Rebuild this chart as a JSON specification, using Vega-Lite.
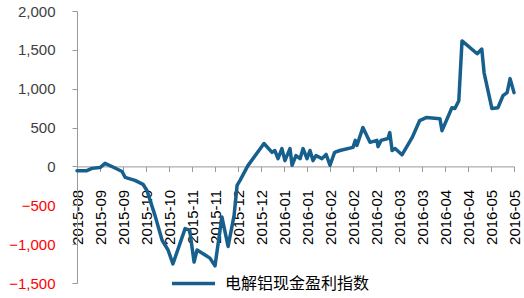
{
  "$schema": "https://vega.github.io/schema/vega-lite/v6.json",
  "width": 437,
  "height": 272,
  "autosize": {"type": "none"},
  "padding": {"left": 77, "top": 11, "right": 10, "bottom": 15},
  "background": "white",
  "config": {"view": {"stroke": null}, "font": "Liberation Sans"},
  "data": {"values": [
    {"t": 0, "v": -55}, {"t": 4.3, "v": -55}, {"t": 6.5, "v": -25}, {"t": 10, "v": -15},
    {"t": 12.2, "v": 40}, {"t": 16.5, "v": -20}, {"t": 19.6, "v": -65}, {"t": 20.9, "v": -140},
    {"t": 25.2, "v": -180}, {"t": 28.7, "v": -230}, {"t": 30.4, "v": -310}, {"t": 33.9, "v": -630},
    {"t": 37, "v": -950}, {"t": 39.6, "v": -1075}, {"t": 41.7, "v": -1255}, {"t": 47, "v": -800},
    {"t": 49, "v": -820}, {"t": 50.9, "v": -1230}, {"t": 52.2, "v": -1075}, {"t": 55.7, "v": -1140},
    {"t": 57.8, "v": -1180}, {"t": 60, "v": -1280}, {"t": 63, "v": -650}, {"t": 65.7, "v": -1030},
    {"t": 68.3, "v": -630}, {"t": 69.6, "v": -245}, {"t": 70.9, "v": -180}, {"t": 74.3, "v": 10},
    {"t": 81.3, "v": 295}, {"t": 84.8, "v": 180}, {"t": 86, "v": 205}, {"t": 87.4, "v": 100},
    {"t": 89.1, "v": 230}, {"t": 90.4, "v": 75}, {"t": 92.6, "v": 230}, {"t": 93.5, "v": 15},
    {"t": 95.2, "v": 140}, {"t": 97, "v": 100}, {"t": 98.3, "v": 230}, {"t": 100, "v": 100},
    {"t": 101.3, "v": 205}, {"t": 102.6, "v": 75}, {"t": 103.9, "v": 140}, {"t": 106.5, "v": 100},
    {"t": 108.3, "v": 155}, {"t": 110, "v": 15}, {"t": 112, "v": 180}, {"t": 114.3, "v": 205},
    {"t": 120, "v": 245}, {"t": 121, "v": 335}, {"t": 121.7, "v": 270}, {"t": 124.3, "v": 500},
    {"t": 127.4, "v": 310}, {"t": 130.4, "v": 335}, {"t": 130.9, "v": 255}, {"t": 132.2, "v": 335},
    {"t": 135.2, "v": 360}, {"t": 136, "v": 435}, {"t": 137, "v": 205}, {"t": 138.3, "v": 230},
    {"t": 141.3, "v": 150}, {"t": 145.7, "v": 370}, {"t": 149, "v": 590}, {"t": 152, "v": 630},
    {"t": 157.8, "v": 615}, {"t": 158.7, "v": 460}, {"t": 163, "v": 755}, {"t": 164.3, "v": 745},
    {"t": 166, "v": 845}, {"t": 167.4, "v": 1615}, {"t": 174, "v": 1450}, {"t": 176, "v": 1510},
    {"t": 177, "v": 1205}, {"t": 180.4, "v": 745}, {"t": 183, "v": 755}, {"t": 185.2, "v": 910},
    {"t": 187, "v": 950}, {"t": 188.3, "v": 1130}, {"t": 190, "v": 950}
  ]},
  "mark": {"type": "line", "strokeWidth": 3.5, "strokeJoin": "round", "strokeCap": "round"},
  "encoding": {
    "x": {
      "field": "t", "type": "quantitative",
      "scale": {"domain": [0, 190], "nice": false, "zero": false},
      "axis": {
        "title": null, "grid": false, "offset": -116.6,
        "values": [0,10,20,30,40,50,60,70,80,90,100,110,120,130,140,150,160,170,180,190],
        "labelExpr": "['2015-08','2015-09','2015-09','2015-10','2015-10','2015-11','2015-11','2015-12','2015-12','2016-01','2016-01','2016-02','2016-02','2016-02','2016-03','2016-03','2016-04','2016-04','2016-05','2016-05'][round(datum.value/10)]",
        "labelAngle": -90, "labelFontSize": 15, "labelColor": "#000000",
        "labelPadding": 18, "labelFlush": false, "labelOverlap": false, "labelBound": false,
        "domainColor": "#999999", "tickColor": "#999999", "tickSize": 5
      }
    },
    "y": {
      "field": "v", "type": "quantitative",
      "scale": {"domain": [-1500, 2000], "nice": false},
      "axis": {
        "title": null, "grid": false,
        "values": [-1500, -1000, -500, 0, 500, 1000, 1500, 2000],
        "format": ",.0f",
        "labelFontSize": 15,
        "labelColor": {"condition": {"test": "datum.value < 0", "value": "#FF0000"}, "value": "#404040"},
        "labelPadding": 17, "tickSize": 5,
        "domainColor": "#999999", "tickColor": "#999999"
      }
    },
    "color": {
      "datum": "电解铝现金盈利指数",
      "scale": {"range": ["#17608E"]},
      "legend": {
        "title": null, "orient": "none", "legendX": 93, "legendY": 249,
        "symbolType": "stroke", "symbolSize": 1849, "symbolStrokeWidth": 3.5,
        "labelFont": "Noto Sans CJK SC", "labelFontSize": 16, "labelColor": "#000000",
        "labelOffset": 8
      }
    }
  }
}
